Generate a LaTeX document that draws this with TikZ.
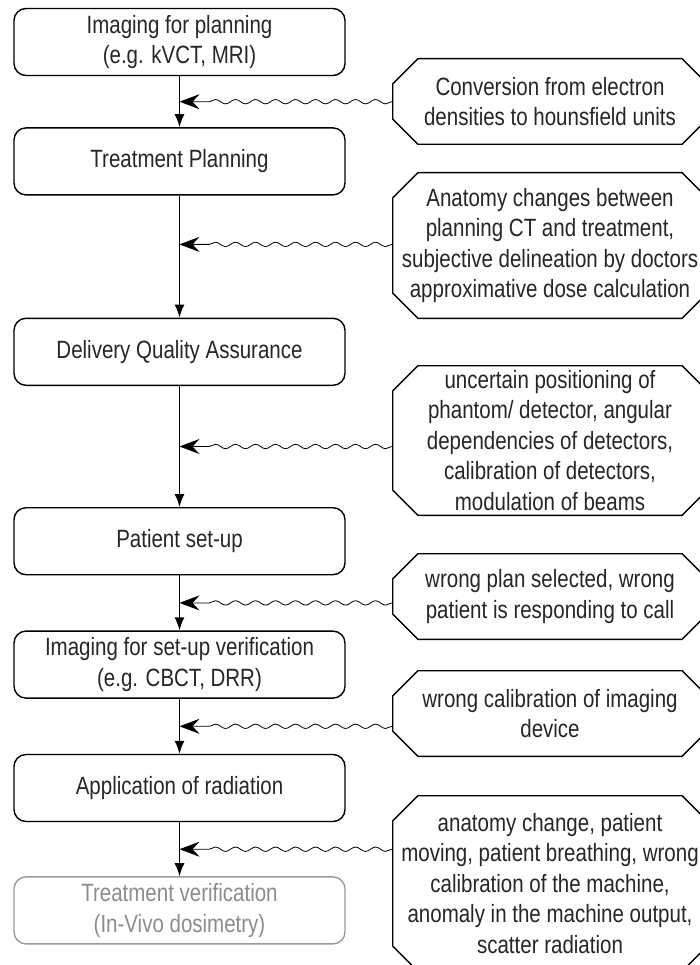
\documentclass[tikz,border=0pt]{standalone}
\usepackage{fontspec}
\setmainfont[FakeStretch=0.82]{Liberation Sans}
\usetikzlibrary{positioning,arrows.meta,decorations.pathmorphing,calc}

\begin{document}
\begin{tikzpicture}[x=1pt, y=1pt, node distance=51pt,
    every node/.style={font=\fontsize{25}{30.5}\selectfont, text=black!85},
    stage/.style={draw, rounded corners=12pt, line width=1.4pt, minimum width=331pt, minimum height=67pt, align=center, inner sep=0pt},
    issue/.style={fill=white, minimum width=316pt, align=center, inner sep=0pt,
        path picture={\draw[line width=1.4pt]
            ([shift={(26pt,-0.7pt)}]path picture bounding box.north west) -- ([shift={(-26pt,-0.7pt)}]path picture bounding box.north east)
            -- ([shift={(-0.7pt,-26pt)}]path picture bounding box.north east) -- ([shift={(-0.7pt,26pt)}]path picture bounding box.south east)
            -- ([shift={(-26pt,0.7pt)}]path picture bounding box.south east) -- ([shift={(26pt,0.7pt)}]path picture bounding box.south west)
            -- ([shift={(0.7pt,26pt)}]path picture bounding box.south west) -- ([shift={(0.7pt,-26pt)}]path picture bounding box.north west) -- cycle;}},
    flow/.style={-{Latex[length=13pt,width=10pt]}, line width=1.4pt},
    wave/.style={-{Stealth[length=20pt,width=15pt,inset=7pt]}, line width=0.8pt, decorate, decoration={snake, amplitude=2.2pt, segment length=20pt, post length=20pt}}]
    \useasboundingbox (0,0) rectangle (699,-965);

    \node[stage] (img) at (179.5,-42) {Imaging for planning\\(e.g. kVCT, MRI)};
    \node[stage, below=of img] (plan) {Treatment Planning};
    \node[stage, below=122pt of plan] (dqa) {Delivery Quality Assurance};
    \node[stage, below=121pt of dqa] (setup) {Patient set-up};
    \node[stage, below=55pt of setup] (verif) {Imaging for set-up verification\\(e.g. CBCT, DRR)};
    \node[stage, below=55pt of verif] (rad) {Application of radiation};
    \node[stage, below=54pt of rad, draw=black!40, text=black!45] (invivo) {Treatment verification\\(In-Vivo dosimetry)};

    \node[issue, minimum height=87pt] (hu) at (550,-101.5) {Conversion from electron\\densities to hounsfield units};
    \node[issue, minimum height=147pt] (anat) at (550,-245.5) {Anatomy changes between\\planning CT and treatment,\\subjective delineation by doctors\\approximative dose calculation};
    \node[issue, minimum height=151pt] (phant) at (550,-440.5) {uncertain positioning of\\phantom/ detector, angular\\dependencies of detectors,\\calibration of detectors,\\modulation of beams};
    \node[issue, minimum height=87pt] (wrong) at (550,-596.5) {wrong plan selected, wrong\\patient is responding to call};
    \node[issue, minimum height=87pt] (calib) at (550,-713.5) {wrong calibration of imaging\\device};
    \node[issue, minimum height=177pt] (move) at (550,-883.5) {anatomy change, patient\\moving, patient breathing, wrong\\calibration of the machine,\\anomaly in the machine output,\\scatter radiation};

    \draw[flow] (img) -- (plan);
    \draw[flow] (plan) -- (dqa);
    \draw[flow] (dqa) -- (setup);
    \draw[flow] (setup) -- (verif);
    \draw[flow] (verif) -- (rad);
    \draw[flow] (rad) -- (invivo);

    % error sources
    \coordinate (e1) at ($(img.south)!0.5!(plan.north)$);
    \coordinate (e2) at ($(plan.south)!0.4!(dqa.north)$);
    \coordinate (e3) at ($(dqa.south)!0.5!(setup.north)$);
    \coordinate (e4) at ($(setup.south)!0.5!(verif.north)$);
    \coordinate (e5) at ($(verif.south)!0.5!(rad.north)$);
    \coordinate (e6) at ($(rad.south)!0.5!(invivo.north)$);
    \draw[wave] (hu.west |- e1) -- (e1);
    \draw[wave] (anat.west |- e2) -- (e2);
    \draw[wave] (phant.west |- e3) -- (e3);
    \draw[wave] (wrong.west |- e4) -- (e4);
    \draw[wave] (calib.west |- e5) -- (e5);
    \draw[wave] (move.west |- e6) -- (e6);
\end{tikzpicture}
\end{document}
